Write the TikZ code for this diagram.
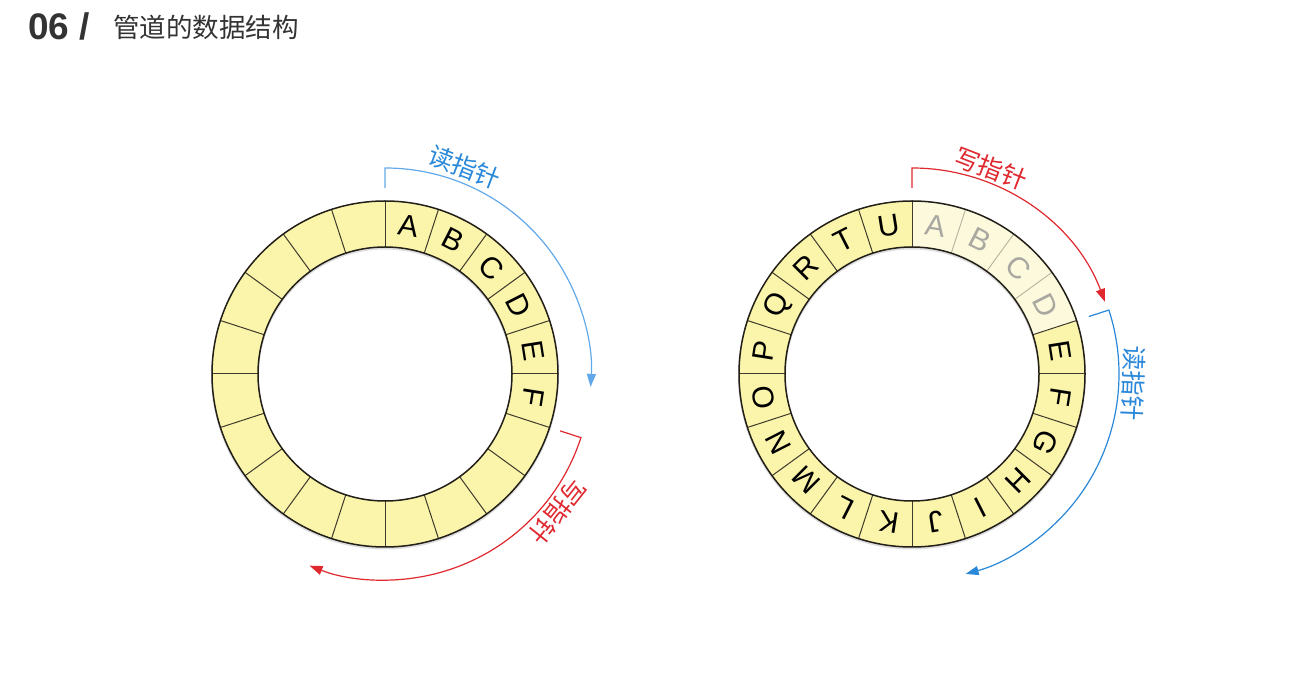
\documentclass[tikz,border=0pt]{standalone}
\usepackage{fontspec}
\setmainfont{Liberation Sans}
\newfontfamily\cjk{Noto Sans CJK SC}
\usetikzlibrary{arrows.meta}
\definecolor{ringfill}{HTML}{FBF4AB}
\definecolor{fadefill}{HTML}{FCF9DD}
\definecolor{ringline}{HTML}{221F18}
\definecolor{divline}{HTML}{3E3A2C}
\definecolor{fadeline}{HTML}{B5B29E}
\definecolor{fadetext}{HTML}{A9A8A0}
\definecolor{ptrred}{HTML}{E0282F}
\definecolor{ptrblue}{HTML}{2A88DA}
\definecolor{ptrlightblue}{HTML}{62A9EA}
\definecolor{titlegray}{HTML}{333333}
\tikzset{
  letter/.style={font=\fontsize{30}{30}\selectfont, inner sep=0pt, text=black},
  fadeletter/.style={letter, text=fadetext},
  divider/.style={draw=divline, line width=1pt},
  fadedivider/.style={draw=fadeline, line width=0.9pt},
  ringedge/.style={draw=ringline, line width=1.5pt},
  ptrlabel/.style={font=\cjk\fontsize{25}{25}\selectfont, inner sep=0pt},
  redptr/.style={draw=ptrred, line width=1.2pt},
  blueptr/.style={draw=ptrblue, line width=1.2pt},
  lblueptr/.style={draw=ptrlightblue, line width=1.2pt},
  tip/.style={-{Triangle[length=13pt,width=9pt]}},
}
\begin{document}
\begin{tikzpicture}[x=1pt,y=1pt]
\useasboundingbox (0,0) rectangle (1307,680);
\fill[white] (0,0) rectangle (1307,680);
% title
\node[anchor=base west, font=\bfseries\fontsize{37}{37}\selectfont, text=titlegray, inner sep=0pt] (num) at (28,640) {06 /};
\node[anchor=west, font=\cjk\fontsize{26.5}{26.5}\selectfont, text=titlegray, inner sep=0pt] (ttl) at (113,653) {管道的数据结构};

\coordinate (L) at (385,306);
\coordinate (R) at (912,306);

% ---------- left ring ----------
\fill[black!25, opacity=0.5, even odd rule] ([yshift=-1.5pt]L) circle[radius=174] ([yshift=-1.5pt]L) circle[radius=126];
\fill[ringfill, even odd rule] (L) circle[radius=173] (L) circle[radius=127];
\foreach \a in {0,18,...,342} \draw[divider] ([shift={(\a:127)}]L) -- ([shift={(\a:173)}]L);
\draw[ringedge] (L) circle[radius=173];
\draw[ringedge] (L) circle[radius=127];
\foreach \l/\a in {A/81,B/63,C/45,D/27,E/9,F/-9}
  \node[letter, rotate=\a-90] (l\l) at ([shift={(\a:150)}]L) {\l};

% left pointers
\coordinate (lb0) at ([shift={(90:186)}]L);
\coordinate (lb1) at ([shift={(90:206)}]L);
\draw[lblueptr, tip] (lb0) -- (lb1) arc[start angle=90, end angle=-3.6, radius=206];
\node[ptrlabel, text=ptrblue, rotate=-21] (lread) at ([shift={(69:222)}]L) {读指针};

\coordinate (lr0) at ([shift={(-18:184)}]L);
\coordinate (lr1) at ([shift={(-18:206)}]L);
\draw[redptr, tip] (lr0) -- (lr1) arc[start angle=-18, end angle=-111.5, radius=206];
\node[ptrlabel, text=ptrred, rotate=-128.5] (lwrite) at ([shift={(-38.5:221)}]L) {写指针};

% ---------- right ring ----------
\fill[black!25, opacity=0.5, even odd rule] ([yshift=-1.5pt]R) circle[radius=174] ([yshift=-1.5pt]R) circle[radius=126];
\fill[ringfill, even odd rule] (R) circle[radius=173] (R) circle[radius=127];
\fill[fadefill] ([shift={(18:127)}]R) -- ([shift={(18:173)}]R) arc[start angle=18, end angle=90, radius=173] -- ([shift={(90:127)}]R) arc[start angle=90, end angle=18, radius=127] -- cycle;
\foreach \a in {36,54,72} \draw[fadedivider] ([shift={(\a:127)}]R) -- ([shift={(\a:173)}]R);
\foreach \a in {0,18,90,108,...,342} \draw[divider] ([shift={(\a:127)}]R) -- ([shift={(\a:173)}]R);
\draw[ringedge] (R) circle[radius=173];
\draw[ringedge] (R) circle[radius=127];
\foreach \l/\a in {A/81,B/63,C/45,D/27}
  \node[fadeletter, rotate=\a-90] (r\l) at ([shift={(\a:150)}]R) {\l};
\foreach \l/\a in {E/9,F/-9,G/-27,H/-45,I/-63,J/-81,K/-99,L/-117,M/-135,N/-153,O/-171,P/-189,Q/-207,R/-225,T/-243,U/-261}
  \node[letter, rotate=\a-90] (r\l) at ([shift={(\a:150)}]R) {\l};

% right pointers
\coordinate (rr0) at ([shift={(90:186)}]R);
\coordinate (rr1) at ([shift={(90:206)}]R);
\draw[redptr, tip] (rr0) -- (rr1) arc[start angle=90, end angle=20.5, radius=206];
\node[ptrlabel, text=ptrred, rotate=-21] (rwrite) at ([shift={(69:220)}]R) {写指针};

\coordinate (rb0) at ([shift={(18:186)}]R);
\coordinate (rb1) at ([shift={(18:207)}]R);
\draw[blueptr, tip] (rb0) -- (rb1) arc[start angle=18, end angle=-75, radius=207];
\node[ptrlabel, text=ptrblue, rotate=-92.3] (rread) at ([shift={(-2.3:222)}]R) {读指针};
\end{tikzpicture}
\end{document}
